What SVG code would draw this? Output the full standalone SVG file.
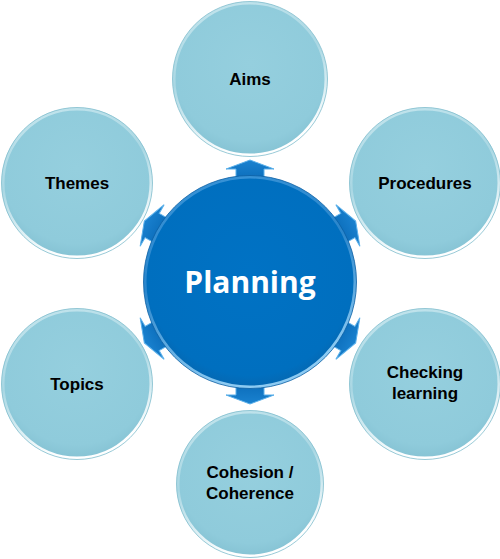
<svg xmlns="http://www.w3.org/2000/svg" width="500" height="559" viewBox="0 0 500 559">
<defs>
<radialGradient id="outerFill" cx="50%" cy="40%" r="60%">
<stop offset="0" stop-color="#95cfde"/>
<stop offset="0.85" stop-color="#8fcbdb"/>
<stop offset="1" stop-color="#86c3d4"/>
</radialGradient>
<linearGradient id="outerRim" x1="0" y1="0" x2="0.3" y2="1">
<stop offset="0" stop-color="#c6e6ee"/>
<stop offset="0.5" stop-color="#a9d7e3"/>
<stop offset="1" stop-color="#ffffff"/>
</linearGradient>
<radialGradient id="centerFill" cx="50%" cy="45%" r="55%">
<stop offset="0" stop-color="#0072c4"/>
<stop offset="0.9" stop-color="#006fbf"/>
<stop offset="1" stop-color="#0568b2"/>
</radialGradient>
<linearGradient id="centerRim" x1="0" y1="0" x2="0.3" y2="1">
<stop offset="0" stop-color="#3b95d8"/>
<stop offset="0.5" stop-color="#2a86cc"/>
<stop offset="1" stop-color="#8ccaf2"/>
</linearGradient>
<linearGradient id="arrowFill" x1="0" y1="0" x2="0" y2="1">
<stop offset="0" stop-color="#1a82d0"/>
<stop offset="1" stop-color="#0a6bb8"/>
</linearGradient>
<g id="arrow">
<path d="M -14 -100 L -14 -113 L -24 -113 L 0 -122 L 24 -113 L 14 -113 L 14 -100 Z" fill="url(#arrowFill)" stroke="#5bb0ea" stroke-width="1"/>
</g>
</defs>
<style>
.outer { fill: url(#outerFill); stroke: url(#outerRim); stroke-width: 3; }
.outerEdge { fill: none; stroke: #7fbccd; stroke-width: 0.8; }
.lbl { font-family: "Liberation Sans", Arial, sans-serif; font-weight: bold; font-size: 17px; fill: #000; text-anchor: middle; }
.big { font-family: "Open Sans", "Liberation Sans", sans-serif; font-weight: bold; font-size: 30px; fill: #fff; text-anchor: middle; }
</style>
<g id="connectors">
<use href="#arrow" transform="translate(250,282) rotate(0)"/>
<use href="#arrow" transform="translate(250,282) rotate(60)"/>
<use href="#arrow" transform="translate(250,282) rotate(120)"/>
<use href="#arrow" transform="translate(250,282) rotate(180)"/>
<use href="#arrow" transform="translate(250,282) rotate(240)"/>
<use href="#arrow" transform="translate(250,282) rotate(300)"/>
</g>
<g id="center">
<circle cx="250" cy="282" r="105" fill="url(#centerFill)" stroke="url(#centerRim)" stroke-width="3"/>
<circle cx="250" cy="282" r="106.5" fill="none" stroke="#0a5ea3" stroke-width="0.8"/>
<text class="big" x="250" y="293">Planning</text>
</g>
<g id="aims">
<circle class="outer" cx="250" cy="79" r="76"/>
<circle class="outerEdge" cx="250" cy="79" r="77.5"/>
<text class="lbl" x="250" y="85">Aims</text>
</g>
<g id="procedures">
<circle class="outer" cx="425" cy="183" r="74"/>
<circle class="outerEdge" cx="425" cy="183" r="75.5"/>
<text class="lbl" x="425" y="189">Procedures</text>
</g>
<g id="checking">
<circle class="outer" cx="425" cy="384" r="74"/>
<circle class="outerEdge" cx="425" cy="384" r="75.5"/>
<text class="lbl" x="425" y="378">Checking</text>
<text class="lbl" x="425" y="399">learning</text>
</g>
<g id="cohesion">
<circle class="outer" cx="250" cy="484" r="72"/>
<circle class="outerEdge" cx="250" cy="484" r="73.5"/>
<text class="lbl" x="250" y="478">Cohesion /</text>
<text class="lbl" x="250" y="499">Coherence</text>
</g>
<g id="topics">
<circle class="outer" cx="77" cy="384" r="74"/>
<circle class="outerEdge" cx="77" cy="384" r="75.5"/>
<text class="lbl" x="77" y="390">Topics</text>
</g>
<g id="themes">
<circle class="outer" cx="77" cy="183" r="74"/>
<circle class="outerEdge" cx="77" cy="183" r="75.5"/>
<text class="lbl" x="77" y="189">Themes</text>
</g>
</svg>
